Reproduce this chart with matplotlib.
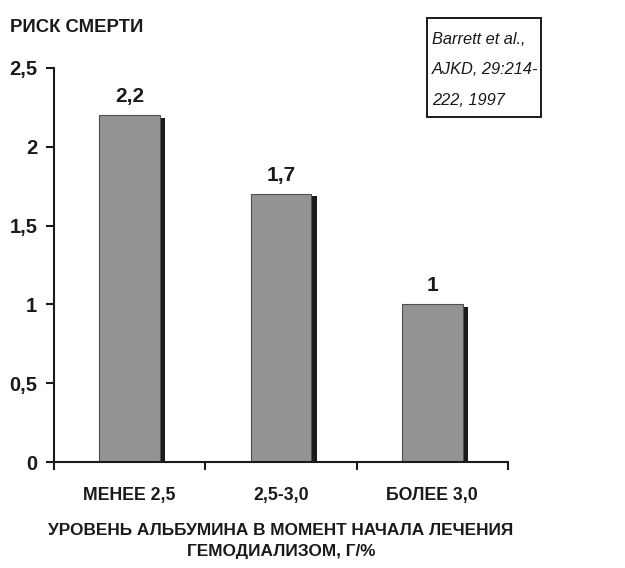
import matplotlib
matplotlib.use('Agg')
import matplotlib.pyplot as plt
from matplotlib.patches import Rectangle

categories = ['МЕНЕЕ 2,5', '2,5-3,0', 'БОЛЕЕ 3,0']
risk = [2.2, 1.7, 1.0]
value_labels = ['2,2', '1,7', '1']
y_ticks = [0, 0.5, 1, 1.5, 2, 2.5]
y_tick_labels = ['0', '0,5', '1', '1,5', '2', '2,5']
source_lines = ['Barrett et al.,', 'AJKD, 29:214-', '222, 1997']

plt.rcParams['font.family'] = ['Liberation Sans', 'DejaVu Sans']
ink = '#1a1a1a'

fig = plt.figure(figsize=(6.25, 5.68), dpi=100)
ax = fig.add_axes([0.0864, 0.1866, 0.7264, 0.6937])

x = list(range(len(categories)))
# shadow bars behind the grey ones
ax.bar([i + 0.035 for i in x], [v - 0.015 for v in risk], width=0.4,
       color=ink, zorder=1)
ax.bar(x, risk, width=0.4, color='#939393', edgecolor='#505050',
       linewidth=0.8, zorder=2)

for i, v, lab in zip(x, risk, value_labels):
    ax.text(i, v + 0.06, lab, ha='center', va='bottom', fontsize=15,
            fontweight='bold', color=ink)

ax.set_xlim(-0.5, 2.5)
ax.set_ylim(0, 2.5)
ax.spines['top'].set_visible(False)
ax.spines['right'].set_visible(False)
for s in ('left', 'bottom'):
    ax.spines[s].set_color(ink)
    ax.spines[s].set_linewidth(1.5)

ax.set_yticks(y_ticks)
ax.set_yticklabels(y_tick_labels, fontsize=14.5, fontweight='bold', color=ink)
ax.set_xticks([-0.5, 0.5, 1.5, 2.5])
ax.set_xticklabels([])
ax.set_xticks(x, minor=True)
ax.set_xticklabels(categories, minor=True, fontsize=12.8, fontweight='bold',
                   color=ink)
ax.tick_params(axis='x', which='major', direction='out', length=6, width=1.5,
               color=ink)
ax.tick_params(axis='x', which='minor', length=0, pad=18)
ax.tick_params(axis='y', direction='out', length=6, width=1.5, color=ink, pad=6)

ax.set_xlabel('УРОВЕНЬ АЛЬБУМИНА В МОМЕНТ НАЧАЛА ЛЕЧЕНИЯ\nГЕМОДИАЛИЗОМ, Г/%',
              fontsize=12.4, fontweight='bold', color=ink, labelpad=14,
              linespacing=1.5)

fig.text(0.016, 0.952, 'РИСК СМЕРТИ', ha='left', va='center', fontsize=13.3,
         fontweight='bold', color=ink)

# reference box
fig.add_artist(Rectangle((0.683, 0.794), 0.1824, 0.1743, transform=fig.transFigure,
                         facecolor='white', edgecolor=ink, linewidth=1.4))
for k, line in enumerate(source_lines):
    fig.text(0.691, 1 - (44 + 30.5 * k) / 568, line, ha='left', va='baseline',
             fontsize=11.8, style='italic', color=ink)

fig.savefig('out.png', dpi=100)
